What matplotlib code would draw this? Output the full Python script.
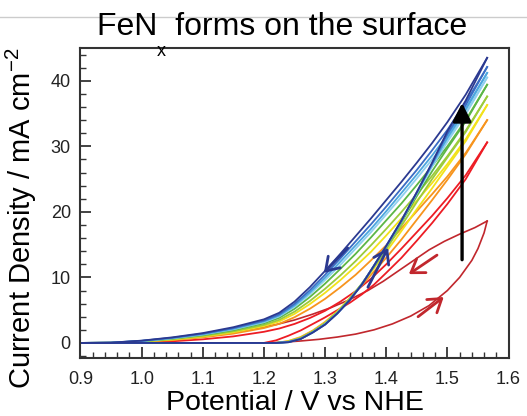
import matplotlib
matplotlib.use('Agg')
import matplotlib.pyplot as plt
from matplotlib.ticker import MultipleLocator
from matplotlib.lines import Line2D

plt.rcParams['font.family'] = ['Liberation Sans', 'DejaVu Sans']
plt.rcParams['mathtext.fontset'] = 'custom'
plt.rcParams['mathtext.rm'] = 'Liberation Sans'

# reverse sweeps (cycles 2..10), common potential grid
v_rev = [0.90, 0.95, 1.00, 1.05, 1.10, 1.15, 1.20, 1.225, 1.25, 1.275, 1.30,
         1.325, 1.35, 1.375, 1.40, 1.425, 1.45, 1.475, 1.50, 1.53, 1.565]
j_rev = [
    [0, 0.00, 0.10, 0.25, 0.55, 1.00, 1.70, 2.20, 2.90, 3.80, 4.90,
     6.30, 7.90, 9.80, 12.0, 14.4, 16.9, 19.4, 22.1, 25.6, 30.6],
    [0, 0.02, 0.18, 0.43, 0.84, 1.42, 2.27, 2.92, 3.92, 5.21, 6.73,
     8.49, 10.4, 12.6, 14.9, 17.5, 20.1, 22.7, 25.4, 29.0, 34.0],
    [0, 0.02, 0.21, 0.52, 0.98, 1.63, 2.56, 3.28, 4.43, 5.92, 7.65,
     9.59, 11.7, 13.9, 16.4, 19.0, 21.7, 24.4, 27.3, 31.1, 36.3],
    [0, 0.03, 0.24, 0.58, 1.07, 1.77, 2.75, 3.52, 4.77, 6.39, 8.26,
     10.3, 12.5, 14.9, 17.4, 20.0, 22.7, 25.5, 28.5, 32.4, 37.6],
    [0, 0.03, 0.27, 0.66, 1.20, 1.95, 2.99, 3.83, 5.21, 7.00, 9.05,
     11.3, 13.6, 16.1, 18.7, 21.3, 24.1, 27.0, 30.0, 34.0, 39.4],
    [0, 0.04, 0.29, 0.71, 1.28, 2.08, 3.16, 4.05, 5.52, 7.42, 9.60,
     11.9, 14.4, 16.9, 19.6, 22.3, 25.1, 28.0, 31.0, 35.1, 40.5],
    [0, 0.04, 0.31, 0.75, 1.34, 2.16, 3.28, 4.19, 5.72, 7.70, 9.96,
     12.4, 14.9, 17.4, 20.1, 22.9, 25.7, 28.6, 31.7, 35.8, 41.2],
    [0, 0.05, 0.33, 0.79, 1.41, 2.26, 3.41, 4.36, 5.96, 8.03, 10.4,
     12.9, 15.5, 18.1, 20.8, 23.6, 26.4, 29.4, 32.5, 36.7, 42.1],
    [0, 0.05, 0.35, 0.85, 1.50, 2.40, 3.60, 4.60, 6.30, 8.50, 11.0,
     13.6, 16.3, 19.0, 21.8, 24.6, 27.5, 30.5, 33.7, 37.9, 43.5],
]

# forward sweeps (cycles 2..10)
v_fwd = [0.90, 1.20, 1.22, 1.24, 1.26, 1.28, 1.30, 1.32, 1.34, 1.36, 1.38,
         1.40, 1.425, 1.45, 1.475, 1.50, 1.53, 1.565]
j_fwd = [
    [0, 0, 0.40, 1.10, 1.90, 2.90, 3.90, 5.00, 6.10, 7.40, 8.90,
     10.7, 13.0, 15.6, 18.3, 21.2, 25.0, 30.6],
    [0, 0, 0, 0.30, 0.90, 1.90, 3.20, 4.80, 6.70, 8.80, 10.9,
     13.0, 15.8, 18.8, 21.8, 24.9, 28.8, 34.0],
    [0, 0, 0, 0.25, 0.80, 1.80, 3.10, 4.80, 6.80, 9.00, 11.4,
     13.9, 17.1, 20.4, 23.6, 26.9, 30.8, 36.3],
    [0, 0, 0, 0.20, 0.75, 1.75, 3.00, 4.70, 6.70, 9.00, 11.6,
     14.3, 17.9, 21.5, 25.0, 28.3, 32.2, 37.6],
    [0, 0, 0, 0.18, 0.70, 1.70, 2.95, 4.60, 6.60, 9.00, 11.7,
     14.6, 18.4, 22.4, 26.2, 29.7, 33.8, 39.4],
    [0, 0, 0, 0.15, 0.65, 1.65, 2.90, 4.55, 6.55, 8.95, 11.8,
     14.7, 18.6, 22.8, 26.9, 30.7, 34.9, 40.5],
    [0, 0, 0, 0.13, 0.62, 1.62, 2.85, 4.50, 6.50, 8.90, 11.8,
     14.8, 18.7, 22.9, 27.2, 31.3, 35.6, 41.2],
    [0, 0, 0, 0.12, 0.60, 1.60, 2.80, 4.50, 6.50, 8.90, 11.8,
     14.8, 18.7, 23.0, 27.4, 31.9, 36.3, 42.1],
    [0, 0, 0, 0.10, 0.60, 1.60, 2.80, 4.50, 6.50, 8.90, 11.8,
     14.8, 18.7, 23.0, 27.5, 32.3, 37.0, 43.5],
]

cycle_colors = ['#ed1c24', '#f7941d', '#f2e21a', '#9ccb3b', '#5cb646',
                '#8fd0ef', '#4ca6de', '#3a6cc4', '#2b3990']

# first cycle (dark red loop)
v_first_fwd = [0.90, 1.20, 1.23, 1.26, 1.29, 1.32, 1.35, 1.38, 1.41, 1.44,
               1.47, 1.50, 1.52, 1.54, 1.55, 1.56, 1.565]
j_first_fwd = [0, 0, 0.10, 0.30, 0.55, 0.90, 1.35, 2.00, 2.90, 4.10,
               5.70, 8.00, 10.0, 12.6, 14.4, 16.8, 18.6]
v_first_rev = [1.565, 1.545, 1.52, 1.495, 1.47, 1.445, 1.42, 1.395, 1.37, 1.34,
               1.31, 1.28, 1.25, 1.22, 1.19, 1.15, 1.10, 1.05, 1.00, 0.95, 0.90]
j_first_rev = [18.6, 17.6, 16.6, 15.5, 14.2, 12.6, 11.0, 9.4, 8.0, 6.6,
               5.4, 4.4, 3.5, 2.8, 2.25, 1.6, 1.0, 0.5, 0.15, 0.02, 0]
first_color = '#c1272d'

fig = plt.figure(figsize=(5.27, 4.16), dpi=100)
ax = fig.add_axes([0.1527, 0.1394, 0.8123, 0.7452])

ax.plot(v_first_fwd, j_first_fwd, color=first_color, lw=1.2)
ax.plot(v_first_rev, j_first_rev, color=first_color, lw=1.2)
for jr, jf, c in zip(j_rev, j_fwd, cycle_colors):
    ax.plot(v_rev, jr, color=c, lw=1.3)
    ax.plot(v_fwd, jf, color=c, lw=1.3)

# direction arrows
def arrow(x0, y0, x1, y1, color, lw=2.0, style='->, head_length=0.45, head_width=0.3'):
    ax.annotate('', xy=(x1, y1), xytext=(x0, y0),
                arrowprops=dict(arrowstyle=style, color=color, lw=lw,
                                mutation_scale=20, shrinkA=0, shrinkB=0))

arrow(1.337, 14.5, 1.298, 10.7, '#2b3990')
arrow(1.370, 8.5, 1.403, 14.5, '#2b3990')
arrow(1.483, 13.4, 1.437, 10.5, first_color)
arrow(1.452, 4.0, 1.494, 7.0, first_color)
arrow(1.524, 12.7, 1.524, 36.6, 'black', lw=2.4,
      style='-|>, head_length=0.55, head_width=0.28')

ax.set_xlim(0.9, 1.6)
ax.set_ylim(-2.3, 45)
ax.xaxis.set_minor_locator(MultipleLocator(0.02))
ax.yaxis.set_minor_locator(MultipleLocator(2))
ax.set_xticks([0.9, 1.0, 1.1, 1.2, 1.3, 1.4, 1.5, 1.6])
ax.set_xticklabels(['0.9', '1.0', '1.1', '1.2', '1.3', '1.4', '1.5', '1.6'])
ax.set_yticks([0, 10, 20, 30, 40])
ax.tick_params(which='major', direction='in', length=8, width=1.2,
               labelsize=13, colors='#222222')
ax.tick_params(axis='x', which='major', pad=9)
ax.tick_params(axis='y', which='major', pad=7)
ax.tick_params(which='minor', direction='in', length=4, width=1.0, colors='#333333')
for s in ax.spines.values():
    s.set_linewidth(1.5)
    s.set_color('#333333')

ax.set_xlabel('Potential / V vs NHE', fontsize=20.5, labelpad=2)
ax.set_ylabel('Current Density / mA cm$^{-2}$', fontsize=21)
ax.yaxis.set_label_coords(-0.097, 0.452)

fig.text(0.535, 1 - 35 / 416, 'FeN  forms on the surface', fontsize=23,
         ha='center', va='baseline')
fig.text(161 / 527, 1 - 51 / 416, 'x', fontsize=13, ha='center', va='center')
fig.add_artist(Line2D([0, 1], [1 - 17 / 416, 1 - 17 / 416],
                      color='#cccccc', lw=1.0))

fig.savefig('out.png', dpi=100)
